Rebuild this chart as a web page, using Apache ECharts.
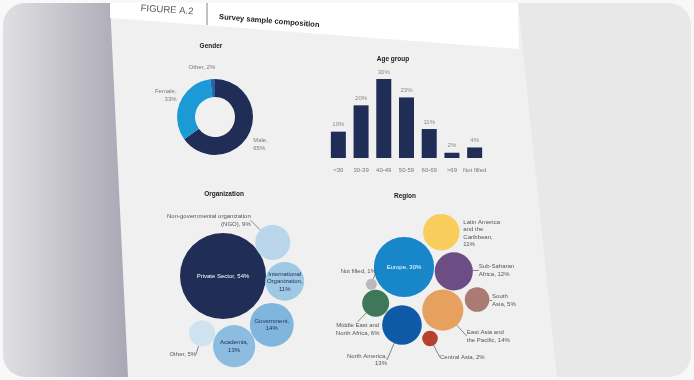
<!DOCTYPE html>
<html><head><meta charset="utf-8">
<script src="https://cdn.jsdelivr.net/npm/echarts@6/dist/echarts.min.js"></script>
<style>html,body{margin:0;padding:0;background:#f8f8f8;}#c{width:694px;height:380px;}</style>
</head><body><div id="c"></div>
<script>
// ---------- DATA ----------
const figureLabel = 'FIGURE A.2';
const figureTitle = 'Survey sample composition';
const panelTitles = ['Gender', 'Age group', 'Organization', 'Region'];

const genderNames = ['Male', 'Female', 'Other'];
const genderValues = [65, 33, 2];

const ageCategories = ['<30', '30-39', '40-49', '50-59', '60-69', '>69', 'Not filled'];
const ageValues = [10, 20, 30, 23, 11, 2, 4];

const orgNames = ['Private Sector', 'Non-governmental organization\n(NGO)', 'International\nOrganization', 'Government', 'Academia', 'Other'];
const orgValues = [54, 9, 11, 14, 13, 5];

const regionNames = ['Europe', 'Latin America\nand the\nCaribbean', 'Sub-Saharan\nAfrica', 'South\nAsia', 'East Asia and\nthe Pacific', 'Central Asia', 'North America', 'Middle East and\nNorth Africa', 'Not filled'];
const regionValues = [30, 11, 12, 5, 14, 2, 13, 6, 1];

// ---------- LAYOUT / STYLE ----------
const FONT = '"Liberation Sans", Arial, sans-serif';
const genderColors = ['#1f2d57', '#1b9ad6', '#2563ad'];
const genderBreak = [true, true, false];
const genderLabelShift = [[-8, 7], [9, -4], [10, -6]];

const orgColors = ['#1f2d57', '#b9d6ea', '#9fc8e4', '#80b6dd', '#8cbde1', '#cfe2f0'];
const orgTextColors = ['#ffffff', '#555555', '#1f2d57', '#1f2d57', '#1f2d57', '#555555'];
const orgBreak = [false, false, true, true, true, false];
const orgPolar = [[0, 0], [60, 56], [62, 95], [69, 135], [71, 171], [61, 200]]; // [distance px, angle deg]
const orgLabelShift = [null, [-22, -22, 'right'], null, null, null, [-6, 21, 'right']];
const orgScale = 5.85;

const regionColors = ['#1787c9', '#f8cd5c', '#6c4e85', '#a97b73', '#e6a15e', '#b5412f', '#0e5aa6', '#3e7859', '#b9b9bb'];
const regionTextColors = ['#ffffff', '#555555', '#555555', '#555555', '#555555', '#555555', '#555555', '#555555', '#555555'];
const regionBreak = [false, true, false, false, false, false, true, false, false];
const regionPolar = [[0, 0], [51, 47], [50, 95], [80, 114], [58, 138], [76, 160], [58, 182], [46, 218], [37, 242]];
const regionLabelShift = [null, [22, 1, 'left', false], [25, -1, 'left', true], [15, 1, 'left', true], [24, 26, 'left', true], [10, 19, 'left', true], [-15, 35, 'right', true], [-18, 26, 'center', true], [-13, -13, 'center', true]];
const regionScale = 5.5;

function bubbles(names, values, colors, textColors, polarPos, shifts, scale) {
  return names.map((n, i) => ({
    name: n,
    value: [polarPos[i][0], polarPos[i][1], values[i]],
    symbolSize: 2 * scale * Math.sqrt(values[i]),
    itemStyle: { color: colors[i], opacity: 1 },
    label: { color: textColors[i] },
    labelLine: { show: !!(shifts[i] && shifts[i][3] !== false) }
  }));
}
function shiftLayout(shifts) {
  return function (p) {
    const s = shifts[p.dataIndex];
    if (!s) return {};
    return { dx: s[0], dy: s[1], align: s[2], verticalAlign: 'middle' };
  };
}

const chart = echarts.init(document.getElementById('c'), null, { renderer: 'canvas' });

const option = {
  animation: false,
  textStyle: { fontFamily: FONT },
  graphic: [
    { type: 'rect', z: -30, silent: true, shape: { x: 3, y: 3, width: 688, height: 374, r: 22 },
      style: { fill: { type: 'linear', x: 0, y: 0, x2: 1, y2: 0, colorStops: [
        { offset: 0, color: '#e0e0e3' }, { offset: 0.182, color: '#a8a7b4' },
        { offset: 0.186, color: '#e8e8e9' }, { offset: 1, color: '#e8e8e9' }] } } },
    { type: 'polygon', z: -29, silent: true, shape: { points: [[110, 3], [518, 3], [557, 377], [128, 377]] }, style: { fill: '#f0f0f0' } },
    { type: 'polygon', z: -28, silent: true, shape: { points: [[110, 3], [518, 3], [519, 49], [110, 18]] }, style: { fill: '#ffffff' } },
    { type: 'line', z: -27, silent: true, shape: { x1: 207, y1: 3, x2: 207, y2: 25 }, style: { stroke: '#666666', lineWidth: 0.8 } },
    { type: 'text', z: 10, x: 167, y: 10, rotation: -0.06, style: { text: figureLabel, fill: '#555555', font: '9.5px ' + FONT, align: 'center', verticalAlign: 'middle' } },
    { type: 'text', z: 10, x: 219, y: 17, rotation: -0.08, style: { text: figureTitle, fill: '#222222', font: 'bold 7.6px ' + FONT, align: 'left', verticalAlign: 'middle' } },
    { type: 'text', z: 10, x: 211, y: 46, style: { text: panelTitles[0], fill: '#222222', font: 'bold 6.5px ' + FONT, align: 'center', verticalAlign: 'middle' } },
    { type: 'text', z: 10, x: 393, y: 59, style: { text: panelTitles[1], fill: '#222222', font: 'bold 6.5px ' + FONT, align: 'center', verticalAlign: 'middle' } },
    { type: 'text', z: 10, x: 224, y: 194, style: { text: panelTitles[2], fill: '#222222', font: 'bold 6.5px ' + FONT, align: 'center', verticalAlign: 'middle' } },
    { type: 'text', z: 10, x: 405, y: 196, style: { text: panelTitles[3], fill: '#222222', font: 'bold 6.5px ' + FONT, align: 'center', verticalAlign: 'middle' } }
  ],
  grid: { left: 327, top: 79, width: 159, height: 79 },
  xAxis: { type: 'category', data: ageCategories,
    axisLine: { show: false }, axisTick: { show: false },
    axisLabel: { fontSize: 6, color: '#777777', margin: 9, interval: 0 } },
  yAxis: { type: 'value', min: 0, max: 30, show: false },
  polar: [
    { center: [223, 276], radius: 100 },
    { center: [404, 267], radius: 100 }
  ],
  radiusAxis: [
    { polarIndex: 0, type: 'value', min: 0, max: 100, show: false },
    { polarIndex: 1, type: 'value', min: 0, max: 100, show: false }
  ],
  angleAxis: [
    { polarIndex: 0, type: 'value', min: 0, max: 360, startAngle: 90, clockwise: true, show: false },
    { polarIndex: 1, type: 'value', min: 0, max: 360, startAngle: 90, clockwise: true, show: false }
  ],
  series: [
    {
      type: 'pie', center: [215, 117], radius: [20, 38], startAngle: 90, clockwise: true,
      avoidLabelOverlap: false, silent: true,
      data: genderNames.map((n, i) => ({ name: n, value: genderValues[i], itemStyle: { color: genderColors[i] } })),
      label: { show: true, position: 'outside', fontSize: 6, lineHeight: 8, color: '#7a7a7a',
        formatter: p => p.name + (genderBreak[p.dataIndex] ? ',\n' : ', ') + p.value + '%' },
      labelLayout: p => ({ dx: genderLabelShift[p.dataIndex][0], dy: genderLabelShift[p.dataIndex][1] }),
      labelLine: { show: false, length: 6, length2: 2 }
    },
    {
      type: 'bar', data: ageValues, barWidth: 15, silent: true,
      itemStyle: { color: '#1f2d57' },
      label: { show: true, position: 'top', distance: 4, fontSize: 6, color: '#8a8a8a', formatter: '{c}%' }
    },
    {
      type: 'scatter', coordinateSystem: 'polar', polarIndex: 0, symbol: 'circle', silent: true,
      data: bubbles(orgNames, orgValues, orgColors, orgTextColors, orgPolar, orgLabelShift, orgScale),
      label: { show: true, position: 'inside', fontSize: 6, lineHeight: 7.5, align: 'center',
        formatter: p => orgNames[p.dataIndex] + (orgBreak[p.dataIndex] ? ',\n' : ', ') + orgValues[p.dataIndex] + '%' },
      labelLayout: shiftLayout(orgLabelShift),
      labelLine: { lineStyle: { color: '#555555', width: 0.7 } },
      emphasis: { disabled: true }
    },
    {
      type: 'scatter', coordinateSystem: 'polar', polarIndex: 1, symbol: 'circle', silent: true,
      data: bubbles(regionNames, regionValues, regionColors, regionTextColors, regionPolar, regionLabelShift, regionScale),
      label: { show: true, position: 'inside', fontSize: 6, lineHeight: 7.5, align: 'center',
        formatter: p => regionNames[p.dataIndex] + (regionBreak[p.dataIndex] ? ',\n' : ', ') + regionValues[p.dataIndex] + '%' },
      labelLayout: shiftLayout(regionLabelShift),
      labelLine: { lineStyle: { color: '#555555', width: 0.7 } },
      emphasis: { disabled: true }
    }
  ]
};
chart.setOption(option);
</script>
</body></html>
